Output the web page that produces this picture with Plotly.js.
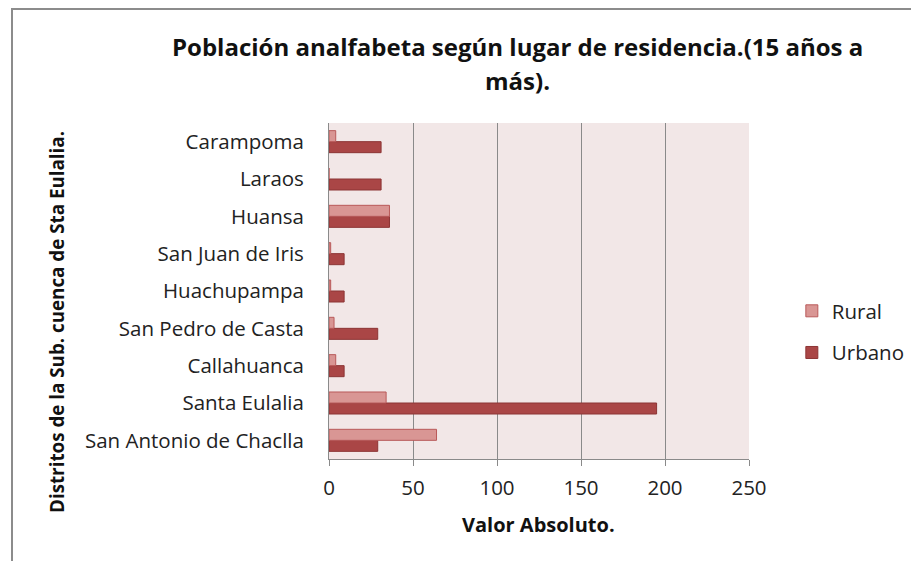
<!DOCTYPE html>
<html>
<head>
<meta charset="utf-8">
<script src="https://cdn.plot.ly/plotly-3.0.1.min.js"></script>
<style>
html,body{margin:0;padding:0;background:#fff;}
#wrap{position:relative;width:911px;height:561px;overflow:hidden;}
#frame{position:absolute;left:11px;top:8px;width:905px;height:560px;border-left:2px solid #8c8c8c;border-top:2px solid #8c8c8c;box-sizing:border-box;pointer-events:none;z-index:5;}
#chart{position:absolute;left:0;top:0;width:911px;height:561px;}
</style>
</head>
<body>
<div id="wrap"><div id="chart"></div><div id="frame"></div></div>
<script>
// Categories listed bottom-to-top
const districts = ["San Antonio de Chaclla","Santa Eulalia","Callahuanca","San Pedro de Casta","Huachupampa","San Juan de Iris","Huansa","Laraos","Carampoma"];
const rural  = [64, 34, 4, 3, 1, 1, 36, 0, 4];
const urbano = [29, 195, 9, 29, 9, 9, 36, 31, 31];
const xTicks = [0, 50, 100, 150, 200, 250];

const FONT = "'Open Sans', 'Noto Sans', sans-serif";

const traces = [
  {type:'bar', orientation:'h', name:'Urbano', y:districts, x:urbano,
   marker:{color:'rgb(170,70,70)', line:{color:'rgb(140,52,52)', width:1}},
   legendrank:2, legendgroup:'u', hoverinfo:'x+y'},
  {type:'bar', orientation:'h', name:'Rural', y:districts, x:rural,
   marker:{color:'rgb(217,150,148)', line:{color:'rgb(185,90,90)', width:1}},
   legendrank:1, legendgroup:'r', hoverinfo:'x+y'}
];

const layout = {
  width:911, height:561,
  margin:{l:329, r:162, t:123, b:102, autoexpand:false},
  paper_bgcolor:'#ffffff',
  plot_bgcolor:'rgb(242,231,231)',
  barmode:'group', bargap:0.41, bargroupgap:0,
  font:{family:FONT, size:18, color:'#222'},
  showlegend:true,
  legend:{x:1.102, xanchor:'left', y:0.5, yanchor:'top', traceorder:'grouped',
          tracegroupgap:12, itemwidth:30, font:{family:FONT, size:20.5, color:'#222'}, bgcolor:'rgba(0,0,0,0)'},
  xaxis:{range:[0,250], tickvals:xTicks, ticktext:xTicks.map(String),
         showgrid:true, gridcolor:'#8a8a8a', gridwidth:1,
         showline:true, linecolor:'#8a8a8a', linewidth:1,
         ticks:'outside', ticklen:6, tickcolor:'#8a8a8a', ticklabelstandoff:4,
         zeroline:false, tickfont:{family:FONT, size:20.5, color:'#222'}, fixedrange:true},
  yaxis:{type:'category', categoryorder:'array', categoryarray:districts,
         showline:true, linecolor:'#8a8a8a', linewidth:1, showgrid:false,
         ticks:'', ticklabelstandoff:20, tickfont:{family:FONT, size:20.5, color:'#222'}, fixedrange:true},
  annotations:[
    {text:'<b>Población analfabeta según lugar de residencia.(15 años a</b>', xref:'paper', yref:'paper',
     x:(517-329)/420, y:(459-47)/336, xanchor:'center', yanchor:'middle', showarrow:false,
     font:{family:FONT, size:24, color:'#111'}},
    {text:'<b>más).</b>', xref:'paper', yref:'paper',
     x:(517-329)/420, y:(459-80)/336, xanchor:'center', yanchor:'middle', showarrow:false,
     font:{family:FONT, size:24, color:'#111'}},
    {text:'<b>Valor Absoluto.</b>', xref:'paper', yref:'paper',
     x:(538-329)/420, y:(459-524)/336, xanchor:'center', yanchor:'middle', showarrow:false,
     font:{family:FONT, size:20, color:'#111'}},
    {text:'<b>Distritos de la Sub. cuenca de Sta Eulalia.</b>', xref:'paper', yref:'paper',
     x:(57-329)/420, y:(459-322)/336, xanchor:'center', yanchor:'middle', showarrow:false, textangle:-90,
     font:{family:FONT, size:18.8, color:'#111'}}
  ]
};

Plotly.newPlot('chart', traces, layout, {displayModeBar:false, staticPlot:true});
</script>
</body>
</html>
